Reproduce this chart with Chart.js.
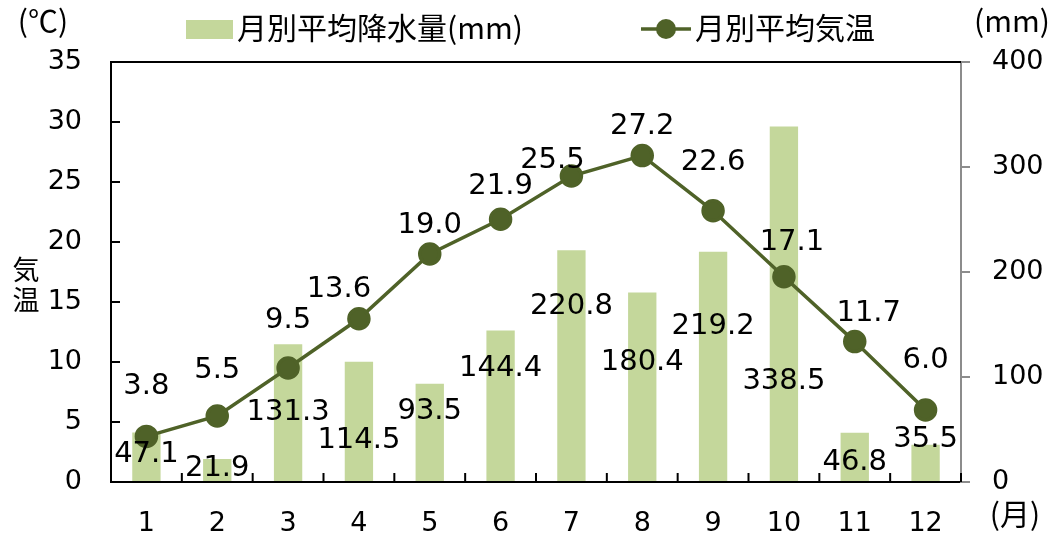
<!DOCTYPE html>
<html>
<head>
<meta charset="utf-8">
<script src="https://cdn.jsdelivr.net/npm/chart.js@4"></script>
<style>
  body { margin: 0; background: #fff; }
  #wrap { width: 1056px; height: 535px; }
</style>
</head>
<body>
<div id="wrap"><canvas id="myChart" width="1056" height="535"></canvas></div>
<script>
const months = ['1', '2', '3', '4', '5', '6', '7', '8', '9', '10', '11', '12'];
const precipitation = [47.1, 21.9, 131.3, 114.5, 93.5, 144.4, 220.8, 180.4, 219.2, 338.5, 46.8, 35.5];
const temperature = [3.8, 5.5, 9.5, 13.6, 19.0, 21.9, 25.5, 27.2, 22.6, 17.1, 11.7, 6.0];

// label nudges (px) relative to the drawn point / bar top
const tempLabelShift = [[0, -50], [0, -46], [0, -48], [-20, -29], [0, -29], [0, -33],
                        [-19, -16], [0, -29], [0, -48], [8, -34], [14, -28], [0, -50]];
const rainLabelShift = [[0, 22], [0, 9], [0, 68], [0, 79], [0, 28], [0, 38],
                        [0, 56], [0, 70], [0, 75], [0, 255], [0, 30], [0, -5]];

const barColor = '#C4D79B';
const lineColor = '#4F6228';
const numFont = '"DejaVu Sans", Verdana, sans-serif';
const jpFont = '"Noto Sans CJK JP", sans-serif';

const labelPlugin = {
    id: 'valueLabels',
    afterDatasetsDraw(chart) {
        const ctx = chart.ctx;
        ctx.save();
        ctx.font = '29px ' + numFont;
        ctx.fillStyle = '#000';
        ctx.textAlign = 'center';
        ctx.textBaseline = 'middle';
        chart.getDatasetMeta(1).data.forEach((bar, i) => {
            const s = rainLabelShift[i];
            ctx.fillText(precipitation[i].toFixed(1), bar.x + s[0], bar.y + s[1]);
        });
        chart.getDatasetMeta(0).data.forEach((pt, i) => {
            const s = tempLabelShift[i];
            ctx.fillText(temperature[i].toFixed(1), pt.x + s[0], pt.y + s[1]);
        });
        ctx.restore();
    }
};

const framePlugin = {
    id: 'frame',
    afterDraw(chart) {
        const ctx = chart.ctx;
        const area = chart.chartArea;
        const y = chart.scales.y;
        const x = chart.scales.x;
        ctx.save();
        ctx.strokeStyle = '#000';
        ctx.lineWidth = 2;
        ctx.beginPath();
        ctx.moveTo(area.left - 1, area.top);
        ctx.lineTo(area.right, area.top);
        // inner ticks on the left axis
        y.ticks.forEach(t => {
            const py = y.getPixelForValue(t.value);
            ctx.moveTo(area.left, py);
            ctx.lineTo(area.left + 9, py);
        });
        // category boundary ticks on the x axis
        for (let i = 0; i <= months.length; i++) {
            const px = x.getPixelForValue(i - 0.5);
            ctx.moveTo(px, area.bottom);
            ctx.lineTo(px, area.bottom - 9);
        }
        ctx.stroke();

        // axis titles
        ctx.fillStyle = '#000';
        ctx.textAlign = 'center';
        ctx.textBaseline = 'middle';
        ctx.font = '30px ' + jpFont;
        ctx.fillText('(℃)', 43, 21);
        ctx.fillText('(mm)', 1012, 21);
        ctx.fillText('(月)', 1015, 514);
        ctx.font = '27px ' + jpFont;
        ctx.fillText('気', 26, 270);
        ctx.fillText('温', 26, 300);

        // legend
        ctx.fillStyle = barColor;
        ctx.fillRect(186, 20, 47, 19);
        ctx.strokeStyle = lineColor;
        ctx.lineWidth = 3.5;
        ctx.beginPath();
        ctx.moveTo(641, 29);
        ctx.lineTo(691, 29);
        ctx.stroke();
        ctx.fillStyle = lineColor;
        ctx.beginPath();
        ctx.arc(666, 29, 10, 0, Math.PI * 2);
        ctx.fill();
        ctx.fillStyle = '#000';
        ctx.textAlign = 'left';
        ctx.font = '30px ' + jpFont;
        ctx.fillText('月別平均降水量(mm)', 237, 28);
        ctx.fillText('月別平均気温', 695, 28);
        ctx.restore();
    }
};

const ctx = document.getElementById('myChart');
new Chart(ctx, {
    data: {
        labels: months,
        datasets: [{
            type: 'line',
            label: '月別平均気温',
            data: temperature,
            yAxisID: 'y',
            borderColor: lineColor,
            backgroundColor: lineColor,
            borderWidth: 3.5,
            pointRadius: 10,
            pointHoverRadius: 10,
            tension: 0,
            order: 0
        }, {
            type: 'bar',
            label: '月別平均降水量(mm)',
            data: precipitation,
            yAxisID: 'y1',
            backgroundColor: barColor,
            barPercentage: 0.4,
            categoryPercentage: 1,
            order: 1
        }]
    },
    options: {
        responsive: false,
        animation: false,
        layout: { padding: { top: 62, left: 0, right: 0, bottom: 0 } },
        plugins: {
            legend: { display: false },
            tooltip: { enabled: false }
        },
        scales: {
            x: {
                offset: true,
                grid: { display: false, drawTicks: false },
                border: { color: '#000', width: 2 },
                ticks: { color: '#000', font: { family: numFont, size: 27 }, padding: 26 },
                afterFit(scale) { scale.height = 53; }
            },
            y: {
                position: 'left',
                min: 0,
                max: 35,
                ticks: { stepSize: 5, color: '#000', font: { family: numFont, size: 27 }, padding: 29 },
                grid: { display: false, drawTicks: false },
                border: { color: '#000', width: 2 },
                afterFit(scale) { scale.width = 111; }
            },
            y1: {
                position: 'right',
                min: 0,
                max: 400,
                ticks: { stepSize: 100, color: '#000', font: { family: numFont, size: 27 }, padding: 22 },
                grid: { drawOnChartArea: false, color: '#8C8C8C', tickLength: 9, lineWidth: 2 },
                border: { color: '#8C8C8C', width: 2 },
                afterFit(scale) { scale.width = 95; }
            }
        }
    },
    plugins: [labelPlugin, framePlugin]
});
</script>
</body>
</html>
